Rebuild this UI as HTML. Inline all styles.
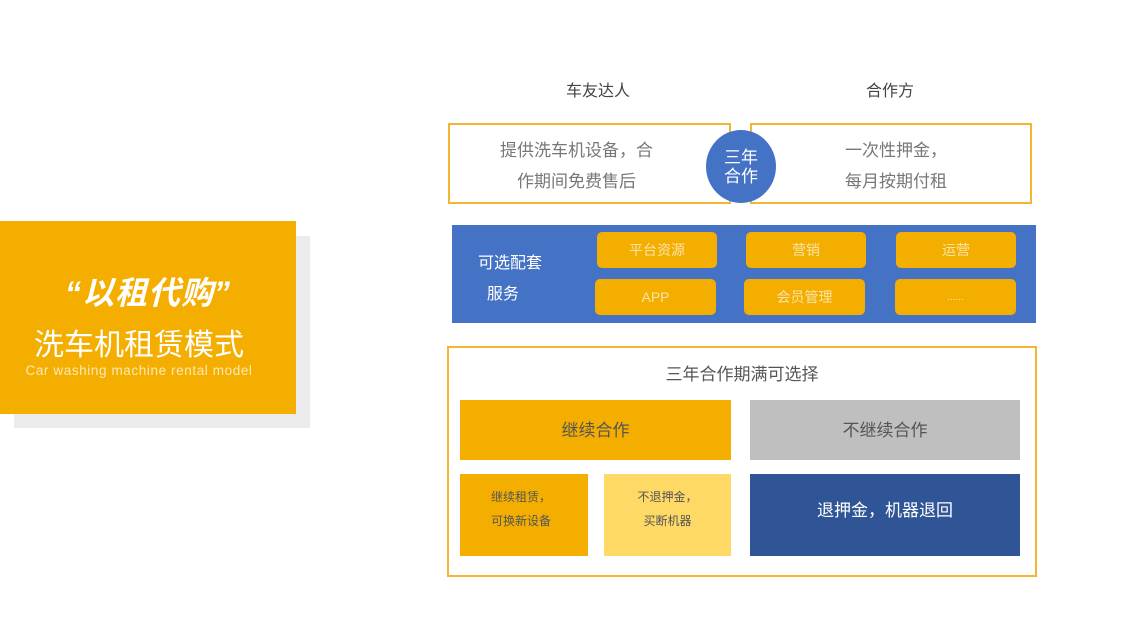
<!DOCTYPE html>
<html><head><meta charset="utf-8"><style>
body{margin:0;width:1130px;height:636px;background:#fff;position:relative;overflow:hidden;font-family:"Liberation Sans","Noto Sans CJK SC",sans-serif}
.a{position:absolute;box-sizing:border-box}
.c{display:flex;align-items:center;justify-content:center;text-align:center}
.btn{background:#f4ae00;border-radius:5px;color:#fbe3a8;font-size:14px}
</style></head><body>
<div class="a" style="left:14px;top:236px;width:296px;height:192px;background:#ebebeb"></div>
<div class="a" style="left:0;top:221px;width:296px;height:193px;background:#f4ae00"></div>
<div class="a" style="left:0;top:268px;width:296px;text-align:center;color:#fff;font-size:32px;font-weight:bold;font-style:italic;letter-spacing:1px">“以租代购”</div>
<div class="a" style="left:0;top:320px;width:278px;text-align:center;color:#fff;font-size:30px">洗车机租赁模式</div>
<div class="a" style="left:0;top:363px;width:278px;text-align:center;color:#fde8b5;font-size:13.5px;letter-spacing:0.6px">Car washing machine rental model</div>

<div class="a" style="left:540px;top:77px;width:116px;text-align:center;font-size:16px;color:#444">车友达人</div>
<div class="a" style="left:832px;top:77px;width:116px;text-align:center;font-size:16px;color:#444">合作方</div>
<div class="a c" style="left:448px;top:123px;width:283px;height:81px;border:2px solid #f2b632;color:#777;font-size:17px;line-height:31px;padding-right:26px;padding-top:4px">提供洗车机设备，合<br>作期间免费售后</div>
<div class="a c" style="left:750px;top:123px;width:282px;height:81px;border:2px solid #f2b632;color:#777;font-size:17px;line-height:31px;padding-left:10px;padding-top:4px">一次性押金，<br>每月按期付租</div>
<div class="a c" style="left:706px;top:130px;width:70px;height:73px;border-radius:50%;background:#4472c4;color:#fff;font-size:17px;line-height:19px">三年<br>合作</div>

<div class="a" style="left:452px;top:225px;width:584px;height:98px;background:#4472c4"></div>
<div class="a" style="left:478px;top:248px;color:#fff;font-size:16px;line-height:31px">可选配套<br>&nbsp;&nbsp;服务</div>
<div class="a c btn" style="left:597px;top:232px;width:120px;height:36px">平台资源</div>
<div class="a c btn" style="left:746px;top:232px;width:120px;height:36px">营销</div>
<div class="a c btn" style="left:896px;top:232px;width:120px;height:36px">运营</div>
<div class="a c btn" style="left:595px;top:279px;width:121px;height:36px">APP</div>
<div class="a c btn" style="left:744px;top:279px;width:121px;height:36px">会员管理</div>
<div class="a c btn" style="left:895px;top:279px;width:121px;height:36px;font-size:10px">......</div>

<div class="a" style="left:447px;top:346px;width:590px;height:231px;border:2px solid #f2b632"></div>
<div class="a" style="left:447px;top:360px;width:590px;text-align:center;font-size:17px;color:#555">三年合作期满可选择</div>
<div class="a c" style="left:460px;top:400px;width:271px;height:60px;background:#f4ae00;color:#555;font-size:17px;padding-bottom:4px">继续合作</div>
<div class="a c" style="left:750px;top:400px;width:270px;height:60px;background:#bfbfbf;color:#555;font-size:17px;padding-bottom:4px">不继续合作</div>
<div class="a c" style="left:460px;top:474px;width:128px;height:82px;background:#f4ae00;color:#555;font-size:12px;line-height:24px;padding-bottom:12px;padding-right:6px">继续租赁，<br>可换新设备</div>
<div class="a c" style="left:604px;top:474px;width:127px;height:82px;background:#ffd966;color:#555;font-size:12px;line-height:24px;padding-bottom:12px">不退押金，<br>买断机器</div>
<div class="a c" style="left:750px;top:474px;width:270px;height:82px;background:#2f5597;color:#fff;font-size:17px;padding-bottom:14px">退押金，机器退回</div>
</body></html>
